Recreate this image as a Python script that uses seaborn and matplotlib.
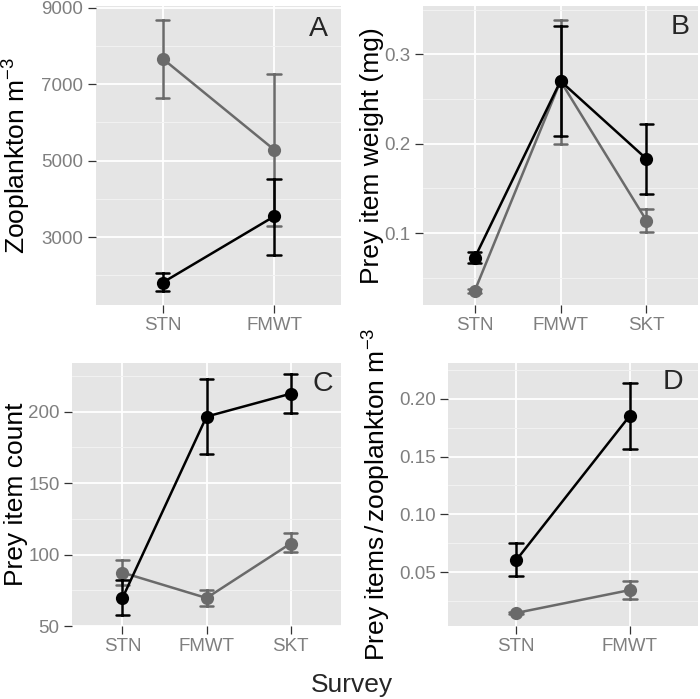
import numpy as np
import pandas as pd
import matplotlib.pyplot as plt
import seaborn as sns

# Data: mean, lower and upper error bar ends
surveys = ["STN", "FMWT", "SKT"]
groups = ["black", "gray"]

zoo_black_mean = [1810, 3540]
zoo_black_lo = [1575, 2520]
zoo_black_hi = [2070, 4530]
zoo_gray_mean = [7670, 5290]
zoo_gray_lo = [6650, 3300]
zoo_gray_hi = [8690, 7280]

wt_black_mean = [0.072, 0.270, 0.183]
wt_black_lo = [0.066, 0.209, 0.144]
wt_black_hi = [0.079, 0.332, 0.222]
wt_gray_mean = [0.035, 0.270, 0.114]
wt_gray_lo = [0.033, 0.200, 0.101]
wt_gray_hi = [0.037, 0.338, 0.127]

cnt_black_mean = [69.6, 196.5, 212.5]
cnt_black_lo = [57.7, 170.5, 199.0]
cnt_black_hi = [82.0, 223.0, 226.0]
cnt_gray_mean = [87.4, 69.6, 107.7]
cnt_gray_lo = [78.7, 64.0, 101.5]
cnt_gray_hi = [96.0, 75.0, 115.0]

ratio_black_mean = [0.0603, 0.1853]
ratio_black_lo = [0.0466, 0.157]
ratio_black_hi = [0.075, 0.2138]
ratio_gray_mean = [0.0147, 0.0345]
ratio_gray_lo = [0.0140, 0.027]
ratio_gray_hi = [0.0155, 0.042]

# Set-up
# --------------
sns.set_theme(style="darkgrid", rc={
    "axes.facecolor": "#E5E5E5",
    "grid.color": "white",
    "axes.edgecolor": "#E5E5E5",
    "xtick.color": "#333333",
    "ytick.color": "#333333",
    "xtick.labelcolor": "#7F7F7F",
    "ytick.labelcolor": "#7F7F7F",
    "xtick.bottom": True,
    "ytick.left": True,
    "xtick.major.size": 5.5,
    "ytick.major.size": 5.5,
    "xtick.major.width": 0.9,
    "ytick.major.width": 0.9,
    "xtick.major.pad": 3,
    "ytick.major.pad": 3.5,
})
plt.rcParams["font.family"] = ["Liberation Sans", "DejaVu Sans"]
plt.rcParams["mathtext.fontset"] = "custom"
plt.rcParams["mathtext.rm"] = "Liberation Sans"
plt.rcParams["mathtext.it"] = "Liberation Sans:italic"

palette = {"black": "#000000", "gray": "#6A6A6A"}
TITLE_SIZE = 19
TICK_SIZE = 13.5


def long_table(cats, black, gray):
    # one row per (lo, mean, hi) value; median gives the mean, min/max the bar
    rows = []
    for grp, trio in zip(groups, [black, gray]):
        for vals in trio:
            for cat, v in zip(cats, vals):
                rows.append({"survey": cat, "group": grp, "value": v})
    return pd.DataFrame(rows)


def panel(ax, cats, black, gray, ylim, majors, minors, fmt,
          letter, letter_off, ylabel, lab_x, cap):
    df = long_table(cats, black, gray)
    n = len(cats)
    sns.pointplot(
        df, x="survey", y="value", hue="group", order=cats,
        hue_order=["gray", "black"], palette=palette,
        estimator="median", errorbar=lambda v: (v.min(), v.max()),
        capsize=cap, markers="o", linewidth=1.8, markersize=9.5,
        markeredgewidth=0, legend=False, ax=ax,
    )
    ax.set_xlim(-0.6, n - 0.4)
    ax.set_ylim(*ylim)
    ax.set_yticks(majors)
    ax.set_yticks(minors, minor=True)
    ax.set_yticklabels([fmt.format(t) for t in majors])
    ax.grid(True, which="major", color="white", linewidth=1.3)
    ax.grid(True, which="minor", axis="y", color="#F2F2F2", linewidth=0.7)
    ax.tick_params(axis="both", which="major", labelsize=TICK_SIZE)
    ax.tick_params(axis="y", which="minor", left=False)
    for s in ax.spines.values():
        s.set_visible(False)
    ax.set_xlabel("")
    ax.set_ylabel(ylabel, fontsize=TITLE_SIZE, color="black")
    ax.yaxis.set_label_coords(lab_x, 0.5)
    ax.annotate(letter, xy=(1, 1), xycoords="axes fraction", xytext=letter_off,
                textcoords="offset pixels", ha="right", va="top", fontsize=20.5)


fig = plt.figure(figsize=(7, 6.99), dpi=100)
ax_a = fig.add_axes([0.137, 0.5637, 0.35, 0.4278])
ax_b = fig.add_axes([0.6043, 0.5637, 0.3929, 0.4278])
ax_c = fig.add_axes([0.1029, 0.1044, 0.3843, 0.3763])
ax_d = fig.add_axes([0.64, 0.1044, 0.357, 0.3763])

panel(ax_a, surveys[:2],
      [zoo_black_lo, zoo_black_mean, zoo_black_hi],
      [zoo_gray_lo, zoo_gray_mean, zoo_gray_hi],
      (1222, 9052), [3000, 5000, 7000, 9000], [2000, 4000, 6000, 8000],
      "{:.0f}", "A", (-13, -10), r"Zooplankton m$^{-3}$", -0.256, 0.12)

panel(ax_b, surveys,
      [wt_black_lo, wt_black_mean, wt_black_hi],
      [wt_gray_lo, wt_gray_mean, wt_gray_hi],
      (0.0196, 0.354), [0.1, 0.2, 0.3], [0.05, 0.15, 0.25, 0.35],
      "{:.1f}", "B", (-8, -8), "Prey item weight (mg)", -0.142, 0.15)

panel(ax_c, surveys,
      [cnt_black_lo, cnt_black_mean, cnt_black_hi],
      [cnt_gray_lo, cnt_gray_mean, cnt_gray_hi],
      (50, 234), [50, 100, 150, 200], [75, 125, 175, 225],
      "{:.0f}", "C", (-8, -8), "Prey item count", -0.165, 0.15)

panel(ax_d, surveys[:2],
      [ratio_black_lo, ratio_black_mean, ratio_black_hi],
      [ratio_gray_lo, ratio_gray_mean, ratio_gray_hi],
      (0.0034, 0.231), [0.05, 0.10, 0.15, 0.20], [0.025, 0.075, 0.125, 0.175, 0.225],
      "{:.2f}", "D", (-15, -6), r"Prey items$\,/\,$zooplankton m$^{-3}$", -0.22, 0.12)

fig.text(0.503, 0.02, "Survey", ha="center", va="center", fontsize=TITLE_SIZE)

fig.savefig("out.png", dpi=100)
